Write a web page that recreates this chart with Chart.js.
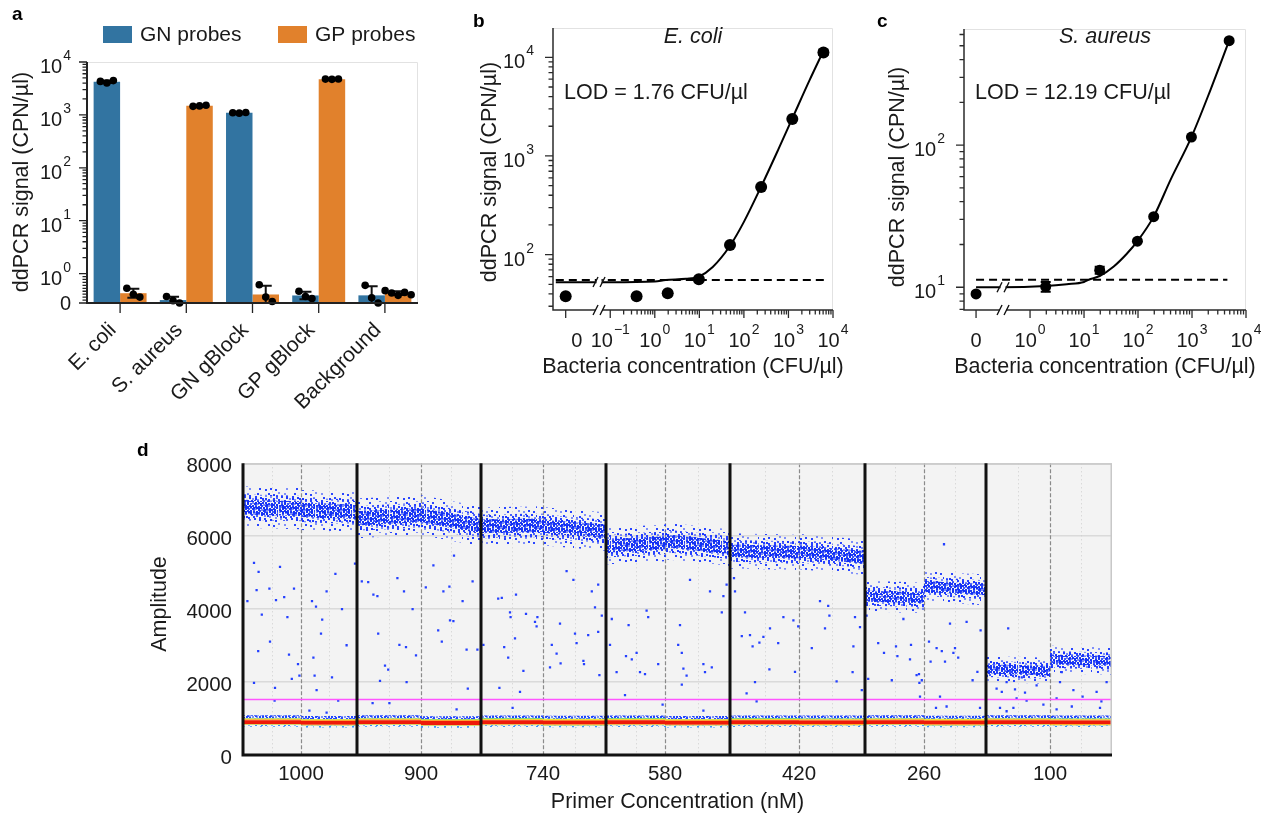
<!DOCTYPE html>
<html>
<head>
<meta charset="utf-8">
<title>ddPCR probe specificity, detection limits and primer titration</title>
<script src="https://cdn.jsdelivr.net/npm/chart.js@4.4.1/dist/chart.umd.min.js"></script>
<style>
  body { margin: 0; background: #fff; }
  #figure { position: relative; width: 1261px; height: 816px; overflow: hidden; }
  #figure canvas { position: absolute; }
</style>
</head>
<body>
<div id="figure">
  <canvas id="chartA" width="450" height="440" style="left:0;top:0"></canvas>
  <canvas id="chartB" width="410" height="400" style="left:450px;top:0"></canvas>
  <canvas id="chartC" width="401" height="400" style="left:860px;top:0"></canvas>
  <canvas id="chartD" width="1000" height="376" style="left:130px;top:440px"></canvas>
</div>
<script>
// ---------------------------Panel a: probe specificity------------------------------------
const aCategories = ['E. coli', 'S. aureus', 'GN gBlock', 'GP gBlock', 'Background'];
const aSeries = ['GN probes', 'GP probes'];
const aGnReplicates = [
  [4300, 4000, 4450],
  [0.22, 0.08, 0.0],
  [1100, 1080, 1110],
  [0.4, 0.22, 0.15],
  [0.6, 0.18, 0.0],
];
const aGpReplicates = [
  [0.5, 0.3, 0.2],
  [1450, 1480, 1520],
  [0.62, 0.2, 0.05],
  [4750, 4700, 4780],
  [0.42, 0.34, 0.26, 0.36, 0.28],
];
const aTickPowers = [0, 1, 2, 3, 4];

// ---------------------------Panel b: E. coli dilution series------------------------------
const bConc = [0, 0.39, 1.95, 9.76, 48.8, 244, 1220, 6100];
const bSignal = [38, 38, 40.6, 56.3, 125, 485, 2370, 11200];
const bSd = [0, 0, 0, 0, 0, 0, 0, 650];
const bFitConc = [0.006, 0.1, 1, 1.76, 5, 9.76, 20, 48.8, 100, 244, 600, 1220, 3000, 6100];
const bFitSignal = [52.5, 52.5, 53.5, 55.4, 57, 60, 75, 123, 215, 490, 1180, 2400, 5900, 11600];
const bLodConc = 1.76;
const bLodSignal = 55.4;
const bLodSpan = [0.006, 6500];

// ---------------------------Panel c: S. aureus dilution series----------------------------
const cConc = [0, 1.95, 19.5, 97.5, 195, 975, 4875];
const cSignal = [8.97, 10.1, 13.2, 21.1, 31.4, 114, 543];
const cSd = [0, 0.8, 0.75, 0, 0, 0, 0];
const cFitConc = [0.1, 0.3, 1.95, 4.8, 10, 12.19, 19.5, 35.5, 62, 97.5, 195, 400, 975, 2200, 4875];
const cFitSignal = [10.0, 10.0, 10.2, 10.5, 10.9, 11.3, 12.0, 14.0, 17.2, 21.1, 31.4, 57, 114, 245, 543];
const cLodConc = 12.19;
const cLodSignal = 11.3;
const cLodSpan = [0.1, 4520];

// ---------------------------Panel d: primer titration droplets----------------------------
const dPrimerConc = ['1000', '900', '740', '580', '420', '260', '100'];
// two wells per primer concentration
const dWellDroplets = [14500, 14000, 16000, 15000, 15500, 15750, 14750, 16250, 17250, 16500, 14750, 15500, 16000, 15500];
const dPosStart = [6800, 6720, 6490, 6580, 6270, 6270, 5730, 5870, 5600, 5580, 4360, 4620, 2360, 2620];
const dPosEnd = [6760, 6670, 6580, 6270, 6300, 6130, 5820, 5690, 5560, 5420, 4310, 4530, 2310, 2580];
const dPosSpread = [270, 260, 260, 260, 250, 250, 240, 240, 230, 230, 200, 200, 170, 180];
const dNegLevel = [905, 885, 905, 880, 900, 890, 900, 885, 900, 895, 905, 890, 905, 895];
const dThreshold = 1520;
// droplets between the clusters: [event number (thousands), amplitude]
const dRain = [
  [1.1, 4220], [3.4, 4520], [2.75, 5270], [3.9, 5020], [6.6, 4560], [4.7, 3850], [3.8, 2850], [6.75, 3110],
  [2.75, 1980], [8.0, 1840], [7.9, 1490], [8.25, 4250], [10.3, 4330], [11.1, 3780], [11.5, 2750], [12.2, 2090],
  [12.75, 4560], [13.75, 2490], [9.25, 5160], [14.1, 2180], [16.6, 1220], [17.25, 4220], [17.6, 2670], [18.25, 4070],
  [18.4, 1780], [17.9, 2180], [19.5, 3330], [19.8, 3710], [20.9, 4490], [22.25, 2130], [24.75, 4000], [25.9, 3010],
  [23.1, 4970], [28.0, 5250], [23.8, 1490], [20.9, 1160],
  [29.7, 4760], [31.3, 4740], [32.6, 4400], [33.6, 4360], [33.8, 3330], [35.5, 2450], [36.3, 2340], [34.25, 2030],
  [32.4, 1420], [36.6, 1420], [38.6, 4850], [40.25, 4490], [39.1, 3020], [40.75, 2960], [42.4, 4000], [43.25, 2730],
  [40.9, 2000], [45.7, 4600], [48.8, 3420], [49.7, 3110], [50.1, 4490], [51.6, 4620], [51.75, 3690], [52.6, 3670],
  [54.9, 4220], [55.9, 2890], [56.2, 1820], [57.4, 4760], [58.6, 2890], [53.4, 1250], [47.6, 5200], [52.75, 5470],
  [60.1, 3020], [63.8, 4290], [64.7, 4310], [65.3, 2960], [66.3, 2670], [66.75, 3910], [66.9, 3780], [68.0, 3200],
  [68.25, 4400], [70.1, 2310], [69.25, 1730], [64.1, 1840], [67.4, 1290], [70.75, 3870], [73.6, 3780], [73.0, 3650],
  [73.4, 3530], [77.2, 3020], [78.4, 2780], [76.75, 2400], [79.4, 2510], [79.25, 3600], [80.9, 5040], [82.6, 4800],
  [83.0, 3330], [83.4, 3070], [85.1, 2580], [85.25, 2490], [86.3, 3290], [87.2, 4490], [88.0, 4050], [88.8, 3380],
  [89.1, 2190], [89.7, 3820], [88.8, 4670],
  [91.75, 3020], [92.2, 3730], [93.4, 2270], [95.75, 2710], [96.4, 3560], [97.2, 2620], [95.5, 1640], [98.4, 2800],
  [99.25, 2270], [100.5, 2220], [100.9, 3960], [101.3, 3780], [103.8, 2490], [104.9, 1380], [108.8, 3020], [109.7, 2800],
  [109.25, 3560], [110.1, 2370], [109.7, 1930], [110.9, 2180], [111.75, 4800], [115.1, 2490], [115.5, 2270], [117.2, 2400],
  [115.1, 1220], [116.75, 4490], [119.7, 3910], [120.1, 4360], [120.9, 4670],
  [122.75, 4850], [123.0, 4490], [124.7, 3260], [125.5, 3910], [126.75, 3290], [127.4, 2980], [125.9, 1690], [128.0, 2000],
  [129.1, 3080], [130.1, 3240], [131.6, 2350], [131.75, 3470], [133.8, 3070], [135.1, 3780], [137.6, 3690], [138.0, 2280],
  [138.8, 3530], [142.2, 2930], [144.25, 4220], [145.5, 3470], [146.3, 4090], [146.6, 3820], [148.4, 2020], [152.4, 2270],
  [152.6, 2980], [154.25, 3510], [154.7, 1780], [153.0, 3780], [128.4, 1470],
  [155.9, 3820], [156.3, 2090], [158.8, 3070], [160.25, 2800], [162.2, 2050], [163.25, 2980], [163.6, 2710], [166.75, 2620],
  [168.4, 2190], [169.25, 1600], [169.1, 1980], [165.1, 3730], [167.0, 3020], [169.0, 2220], [169.7, 2050], [171.5, 3110],
  [171.9, 2560], [173.4, 2930], [174.7, 2850], [175.5, 2560], [177.6, 2800], [178.0, 2930], [178.8, 2670], [174.25, 1600],
  [173.25, 1290], [175.9, 1330], [182.4, 2050], [183.6, 2280], [184.4, 3420], [184.25, 1290], [175.25, 5780], [180.9, 3650],
  [176.75, 3600],
  [191.3, 3470], [188.4, 1820], [189.7, 1730], [190.9, 2000], [193.0, 1800], [195.5, 1710], [193.4, 1550], [195.9, 1490],
  [189.25, 1290], [190.9, 1200], [192.6, 1290], [198.4, 1910], [200.1, 1380], [203.4, 1550], [204.25, 2000], [204.7, 2270],
  [207.6, 1780], [209.9, 1600], [213.4, 1730], [214.6, 1470], [215.9, 2000], [207.2, 1330], [203.4, 1250], [214.25, 1290],
  [192.2, 2270], [194.7, 2130],
];

// ----------------------------------------------------------------------------------------------

const FONT = '"Liberation Sans", Arial, Helvetica, sans-serif';
const INK = '#1a1a1a';

Chart.defaults.font.family = FONT;
Chart.defaults.color = INK;
Chart.defaults.animation = false;
Chart.defaults.events = [];
Chart.defaults.responsive = false;
Chart.defaults.plugins.legend.display = false;
Chart.defaults.plugins.tooltip.enabled = false;

const mean = (a) => a.reduce((s, v) => s + v, 0) / a.length;
const stdev = (a) => {
  const m = mean(a);
  return Math.sqrt(a.reduce((s, v) => s + (v - m) ** 2, 0) / (a.length - 1));
};

// "10" with a raised exponent, as on the log axes
function powerLabel(ctx, exp, x, baseline, align) {
  const expText = String(exp).replace('-', '\u2212');
  ctx.font = `20px ${FONT}`;
  const wBase = ctx.measureText('10').width;
  ctx.font = `14px ${FONT}`;
  const wExp = ctx.measureText(expText).width;
  const total = wBase + 1 + wExp;
  const x0 = align === 'right' ? x - total : x - total / 2;
  ctx.textAlign = 'left';
  ctx.textBaseline = 'alphabetic';
  ctx.font = `20px ${FONT}`;
  ctx.fillText('10', x0, baseline);
  ctx.font = `14px ${FONT}`;
  ctx.fillText(expText, x0 + wBase + 1, baseline - 13);
}

function plainLabel(ctx, text, x, baseline, align) {
  ctx.font = `20px ${FONT}`;
  ctx.textAlign = align;
  ctx.textBaseline = 'alphabetic';
  ctx.fillText(text, x, baseline);
}

function panelLetter(ctx, letter, x, baseline) {
  ctx.font = `bold 19px ${FONT}`;
  ctx.fillStyle = '#000';
  ctx.textAlign = 'left';
  ctx.textBaseline = 'alphabetic';
  ctx.fillText(letter, x, baseline);
}

function verticalTitle(ctx, text, x, y) {
  ctx.save();
  ctx.translate(x, y);
  ctx.rotate(-Math.PI / 2);
  ctx.font = `21.5px ${FONT}`;
  ctx.textAlign = 'center';
  ctx.textBaseline = 'middle';
  ctx.fillText(text, 0, 0);
  ctx.restore();
}

function logMinors(fromExp, toExp, lo, hi) {
  const out = [];
  for (let e = fromExp; e <= toExp; e++) {
    for (let m = 2; m <= 9; m++) {
      const v = m * 10 ** e;
      if (v > lo && v < hi) out.push(v);
    }
  }
  return out;
}

// ---------------------------Panel a chart------------------------------------------------
const LIN = 0.556; // the 0..1 stretch of the axis, in decades
const symlog = (v) => (v < 1 ? v * LIN : LIN + Math.log10(v));

const panelAPlugin = {
  id: 'panelA',
  afterDatasetsDraw(chart) {
    const { ctx } = chart;
    const yS = chart.scales.y;
    ctx.save();
    chart.data.datasets.forEach((ds, i) => {
      const meta = chart.getDatasetMeta(i);
      ds.replicates.forEach((reps, j) => {
        const cx = meta.data[j].x;
        const m = mean(reps);
        const s = stdev(reps);
        const hi = yS.getPixelForValue(symlog(m + s));
        const lo = yS.getPixelForValue(symlog(Math.max(0, m - s)));
        ctx.strokeStyle = '#111';
        ctx.lineWidth = 2;
        ctx.beginPath();
        ctx.moveTo(cx, hi); ctx.lineTo(cx, lo);
        ctx.moveTo(cx - 6, hi); ctx.lineTo(cx + 6, hi);
        ctx.moveTo(cx - 6, lo); ctx.lineTo(cx + 6, lo);
        ctx.stroke();
        ctx.fillStyle = '#000';
        reps.forEach((v, k) => {
          const dx = (k - (reps.length - 1) / 2) * 6.5;
          ctx.beginPath();
          ctx.arc(cx + dx, yS.getPixelForValue(symlog(v)), 3.8, 0, Math.PI * 2);
          ctx.fill();
        });
      });
    });
    ctx.restore();
  },
  afterDraw(chart) {
    const { ctx, chartArea: ca } = chart;
    const xS = chart.scales.x;
    const yS = chart.scales.y;
    ctx.save();

    ctx.strokeStyle = '#e2e2e2';
    ctx.lineWidth = 1;
    ctx.beginPath();
    ctx.moveTo(ca.left, ca.top + 0.5);
    ctx.lineTo(ca.right - 0.5, ca.top + 0.5);
    ctx.lineTo(ca.right - 0.5, ca.bottom);
    ctx.stroke();

    ctx.strokeStyle = '#222';
    ctx.lineWidth = 2;
    ctx.beginPath();
    ctx.moveTo(ca.left, ca.top);
    ctx.lineTo(ca.left, ca.bottom);
    ctx.lineTo(ca.right, ca.bottom);
    ctx.stroke();

    // y ticks: linear part 0..1, then decades
    const majors = [0, ...aTickPowers.map((p) => 10 ** p)];
    const minors = [0.1, 0.2, 0.3, 0.4, 0.5, 0.6, 0.7, 0.8, 0.9, ...logMinors(0, 3, 1, 1e4)];
    ctx.lineWidth = 1.3;
    ctx.beginPath();
    majors.forEach((v) => {
      const y = yS.getPixelForValue(symlog(v));
      ctx.moveTo(ca.left - 8, y); ctx.lineTo(ca.left, y);
    });
    minors.forEach((v) => {
      const y = yS.getPixelForValue(symlog(v));
      ctx.moveTo(ca.left - 4.5, y); ctx.lineTo(ca.left, y);
    });
    aCategories.forEach((_, i) => {
      const x = xS.getPixelForValue(i);
      ctx.moveTo(x, ca.bottom); ctx.lineTo(x, ca.bottom + 10);
    });
    ctx.stroke();

    ctx.fillStyle = INK;
    plainLabel(ctx, '0', ca.left - 16, yS.getPixelForValue(0) + 7, 'right');
    aTickPowers.forEach((p) => {
      powerLabel(ctx, p, ca.left - 16, yS.getPixelForValue(symlog(10 ** p)) + 11, 'right');
    });

    ctx.font = `21px ${FONT}`;
    ctx.textAlign = 'right';
    ctx.textBaseline = 'alphabetic';
    aCategories.forEach((name, i) => {
      ctx.save();
      ctx.translate(xS.getPixelForValue(i) - 3, ca.bottom + 28);
      ctx.rotate(-Math.PI / 4);
      ctx.fillText(name, 0, 0);
      ctx.restore();
    });

    verticalTitle(ctx, 'ddPCR signal (CPN/\u00b5l)', 22, 182);

    // legend
    const legendX = [103, 278];
    chart.data.datasets.forEach((ds, i) => {
      ctx.fillStyle = ds.backgroundColor;
      ctx.fillRect(legendX[i], 26, 29, 17);
      ctx.fillStyle = INK;
      ctx.font = `21px ${FONT}`;
      ctx.textAlign = 'left';
      ctx.textBaseline = 'middle';
      ctx.fillText(ds.label, legendX[i] + 37, 35);
    });

    panelLetter(ctx, 'a', 12, 20);
    ctx.restore();
  },
};

new Chart(document.getElementById('chartA'), {
  type: 'bar',
  data: {
    labels: aCategories,
    datasets: [
      {
        label: aSeries[0],
        data: aGnReplicates.map((r) => symlog(mean(r))),
        replicates: aGnReplicates,
        backgroundColor: '#3274a1',
        categoryPercentage: 0.8,
        barPercentage: 1,
      },
      {
        label: aSeries[1],
        data: aGpReplicates.map((r) => symlog(mean(r))),
        replicates: aGpReplicates,
        backgroundColor: '#e1812c',
        categoryPercentage: 0.8,
        barPercentage: 1,
      },
    ],
  },
  options: {
    layout: { padding: { left: 87, right: 32, top: 62, bottom: 137 }, autoPadding: false },
    scales: {
      x: { ticks: { display: false }, grid: { display: false, drawTicks: false }, border: { display: false } },
      y: {
        min: 0,
        max: symlog(1e4),
        ticks: { display: false },
        grid: { display: false, drawTicks: false },
        border: { display: false },
      },
    },
  },
  plugins: [panelAPlugin],
});

// ---------------------------Panels b and c: fitted dilution curves------------------------
function breakMark(ctx, x, y) {
  ctx.save();
  ctx.strokeStyle = '#111';
  ctx.lineWidth = 1.4;
  ctx.beginPath();
  ctx.moveTo(x - 6, y + 5); ctx.lineTo(x - 1, y - 5);
  ctx.moveTo(x + 1, y + 5); ctx.lineTo(x + 6, y - 5);
  ctx.stroke();
  ctx.restore();
}

function fitPanel(p) {
  const plotX = (c) => (c === 0 ? p.zeroAt : c);

  const plugin = {
    id: 'fitPanel',
    afterDatasetsDraw(chart) {
      const { ctx } = chart;
      const xS = chart.scales.x;
      const yS = chart.scales.y;
      ctx.save();
      ctx.strokeStyle = '#000';
      ctx.lineWidth = 2;
      p.conc.forEach((c, i) => {
        const s = p.sd[i];
        if (!s) return;
        const x = xS.getPixelForValue(plotX(c));
        const hi = yS.getPixelForValue(p.signal[i] + s);
        const lo = yS.getPixelForValue(p.signal[i] - s);
        ctx.beginPath();
        ctx.moveTo(x, hi); ctx.lineTo(x, lo);
        ctx.moveTo(x - 5, hi); ctx.lineTo(x + 5, hi);
        ctx.moveTo(x - 5, lo); ctx.lineTo(x + 5, lo);
        ctx.stroke();
      });
      // break across the baseline of the fit
      const bx = xS.getPixelForValue(p.breakAt);
      const by = yS.getPixelForValue(p.breakLevel);
      ctx.fillStyle = '#fff';
      ctx.fillRect(bx - 2.5, by - 6, 5, 12);
      breakMark(ctx, bx, by);
      ctx.restore();
    },
    afterDraw(chart) {
      const { ctx, chartArea: ca } = chart;
      const xS = chart.scales.x;
      const yS = chart.scales.y;
      const bx = xS.getPixelForValue(p.breakAt);
      ctx.save();

      ctx.strokeStyle = '#e2e2e2';
      ctx.lineWidth = 1;
      ctx.beginPath();
      ctx.moveTo(ca.left, ca.top + 0.5);
      ctx.lineTo(ca.right - 0.5, ca.top + 0.5);
      ctx.lineTo(ca.right - 0.5, ca.bottom);
      ctx.stroke();

      ctx.strokeStyle = '#2b2b2b';
      ctx.lineWidth = 1.5;
      ctx.beginPath();
      ctx.moveTo(ca.left, ca.top); ctx.lineTo(ca.left, ca.bottom);
      ctx.lineTo(bx - 3, ca.bottom);
      ctx.moveTo(bx + 3, ca.bottom); ctx.lineTo(ca.right, ca.bottom);
      ctx.stroke();
      breakMark(ctx, bx, ca.bottom);

      const yMinors = logMinors(Math.floor(Math.log10(p.yMin)), Math.floor(Math.log10(p.yMax)), p.yMin, p.yMax);
      const xMinors = logMinors(p.xPowers[0], 3, 0, 1e4);
      ctx.lineWidth = 1.3;
      ctx.beginPath();
      p.yPowers.forEach((e) => {
        const y = yS.getPixelForValue(10 ** e);
        ctx.moveTo(ca.left - 8, y); ctx.lineTo(ca.left, y);
      });
      yMinors.forEach((v) => {
        const y = yS.getPixelForValue(v);
        ctx.moveTo(ca.left - 4.5, y); ctx.lineTo(ca.left, y);
      });
      [p.zeroAt, ...p.xPowers.map((e) => 10 ** e)].forEach((v) => {
        const x = xS.getPixelForValue(v);
        ctx.moveTo(x, ca.bottom); ctx.lineTo(x, ca.bottom + 8);
      });
      xMinors.forEach((v) => {
        const x = xS.getPixelForValue(v);
        ctx.moveTo(x, ca.bottom); ctx.lineTo(x, ca.bottom + 4.5);
      });
      ctx.stroke();

      ctx.fillStyle = INK;
      p.yPowers.forEach((e) => powerLabel(ctx, e, ca.left - 19, yS.getPixelForValue(10 ** e) + 11, 'right'));
      const lblY = ca.bottom + 36.7;
      plainLabel(ctx, '0', xS.getPixelForValue(p.zeroAt) + p.zeroLabelShift, lblY, 'center');
      p.xPowers.forEach((e) => powerLabel(ctx, e, xS.getPixelForValue(10 ** e), lblY, 'center'));

      const midX = (ca.left + ca.right) / 2;
      ctx.font = `italic 21.5px ${FONT}`;
      ctx.textAlign = 'center';
      ctx.textBaseline = 'middle';
      ctx.fillText(p.organism, midX, 37);

      ctx.font = `21.5px ${FONT}`;
      ctx.textAlign = 'left';
      ctx.fillText(`LOD = ${p.lodConc} CFU/\u00b5l`, ca.left + 11, 93);

      ctx.textAlign = 'center';
      ctx.fillText('Bacteria concentration (CFU/\u00b5l)', midX, 367);
      verticalTitle(ctx, 'ddPCR signal (CPN/\u00b5l)', p.yTitleX, p.yTitleY);

      panelLetter(ctx, p.letter, p.letterX, 27);
      ctx.restore();
    },
  };

  new Chart(document.getElementById(p.canvas), {
    type: 'line',
    data: {
      datasets: [
        {
          data: p.conc.map((c, i) => ({ x: plotX(c), y: p.signal[i] })),
          showLine: false,
          pointRadius: p.pointRadius,
          pointBackgroundColor: '#000',
          pointBorderWidth: 0,
        },
        {
          data: p.fitConc.map((c, i) => ({ x: c, y: p.fitSignal[i] })),
          borderColor: '#000',
          borderWidth: 2,
          pointRadius: 0,
          cubicInterpolationMode: 'monotone',
        },
        {
          data: p.lodSpan.map((c) => ({ x: c, y: p.lodSignal })),
          borderColor: '#000',
          borderWidth: 2,
          borderDash: [8, 5],
          pointRadius: 0,
        },
      ],
    },
    options: {
      layout: { padding: p.pad, autoPadding: false },
      scales: {
        x: {
          type: 'logarithmic',
          min: p.xMin,
          max: 1e4,
          ticks: { display: false },
          grid: { display: false, drawTicks: false },
          border: { display: false },
        },
        y: {
          type: 'logarithmic',
          min: p.yMin,
          max: p.yMax,
          ticks: { display: false },
          grid: { display: false, drawTicks: false },
          border: { display: false },
        },
      },
    },
    plugins: [plugin],
  });
}

fitPanel({
  canvas: 'chartB', letter: 'b', letterX: 23, organism: 'E. coli',
  conc: bConc, signal: bSignal, sd: bSd, fitConc: bFitConc, fitSignal: bFitSignal,
  lodConc: bLodConc, lodSignal: bLodSignal, lodSpan: bLodSpan,
  zeroAt: 0.01, zeroLabelShift: 11, breakAt: 0.056, breakLevel: 52.8,
  xMin: 0.00519, yMin: 27.5, yMax: 19800,
  xPowers: [-1, 0, 1, 2, 3, 4], yPowers: [2, 3, 4],
  pad: { left: 103, right: 27, top: 28, bottom: 90 },
  pointRadius: 6, yTitleX: 40, yTitleY: 172,
});

fitPanel({
  canvas: 'chartC', letter: 'c', letterX: 17, organism: 'S. aureus',
  conc: cConc, signal: cSignal, sd: cSd, fitConc: cFitConc, fitSignal: cFitSignal,
  lodConc: cLodConc, lodSignal: cLodSignal, lodSpan: cLodSpan,
  zeroAt: 0.1, zeroLabelShift: 0, breakAt: 0.316, breakLevel: 10.0,
  xMin: 0.0598, yMin: 6.92, yMax: 656,
  xPowers: [0, 1, 2, 3, 4], yPowers: [1, 2],
  pad: { left: 104, right: 15, top: 29, bottom: 90 },
  pointRadius: 5.5, yTitleX: 38, yTitleY: 177,
});

// ---------------------------Panel d chart------------------------------------------------
const dEdges = dWellDroplets.reduce((acc, n) => { acc.push(acc[acc.length - 1] + n); return acc; }, [0]);
const dTotal = dEdges[dEdges.length - 1];
const dGroupMids = dEdges.filter((_, i) => i % 2 === 1);
const dGroupBounds = dEdges.filter((_, i) => i % 2 === 0 && i > 0 && i < dEdges.length - 1);

// speckle texture for the dense droplet clouds
function stipple(w, h, dots, color) {
  const c = document.createElement('canvas');
  c.width = w;
  c.height = h;
  const g = c.getContext('2d');
  g.fillStyle = color;
  for (let i = 1; i <= dots; i++) {
    const px = Math.floor(((0.37 + i * 0.7548777) % 1) * w);
    const py = Math.floor(((0.61 + i * 0.5698403) % 1) * h);
    g.globalAlpha = i % 3 === 0 ? 0.55 : 0.95;
    g.fillRect(px, py, 2, 2);
  }
  return g.createPattern(c, 'repeat');
}

const haloTex = stipple(37, 31, 36, '#1f3cff');
const midTex = stipple(37, 31, 110, '#1a36ff');
const coreTex = stipple(37, 31, 270, '#1230f5');
const negTopTex = stipple(23, 17, 80, '#1a40ff');
const negLowTex = stipple(23, 17, 26, '#2a8cff');

// colour bands of the negative cluster, relative to its centre amplitude
const negLayers = [
  [-130, -85, negLowTex],
  [-85, -70, '#b8d86a'],
  [-70, -55, '#ffb000'],
  [-55, 50, '#ee1a08'],
  [50, 70, '#ff8a00'],
  [70, 88, '#ffe000'],
  [88, 105, '#5fd35f'],
  [105, 185, negTopTex],
];

const dDatasets = [];
function band(x0, x1, lo0, hi0, lo1, hi1, fill, order) {
  const common = { borderColor: 'rgba(0,0,0,0)', borderWidth: 0, pointRadius: 0, order };
  dDatasets.push({ ...common, data: [{ x: x0, y: hi0 }, { x: x1, y: hi1 }], fill: '+1', backgroundColor: fill });
  dDatasets.push({ ...common, data: [{ x: x0, y: lo0 }, { x: x1, y: lo1 }], fill: false });
}

dWellDroplets.forEach((_, w) => {
  const x0 = dEdges[w];
  const x1 = dEdges[w + 1];
  [[2.1, haloTex, 60], [1.3, midTex, 55], [0.75, coreTex, 50]].forEach(([k, tex, order]) => {
    const h = dPosSpread[w] * k;
    band(x0, x1, dPosStart[w] - h, dPosStart[w] + h, dPosEnd[w] - h, dPosEnd[w] + h, tex, order);
  });
  const c = dNegLevel[w];
  negLayers.forEach(([lo, hi, fill]) => band(x0, x1, c + lo, c + hi, c + lo, c + hi, fill, 40));
});

dDatasets.push({
  data: dRain.map(([k, a]) => ({ x: k * 1000, y: a })),
  showLine: false,
  pointRadius: 1.6,
  pointStyle: 'rect',
  pointBackgroundColor: '#2440ff',
  pointBorderWidth: 0,
  order: 20,
});
dDatasets.push({
  data: [{ x: 0, y: dThreshold }, { x: dTotal, y: dThreshold }],
  borderColor: '#ff55ff',
  borderWidth: 1.5,
  pointRadius: 0,
  order: 5,
});

const panelDPlugin = {
  id: 'panelD',
  beforeDraw(chart) {
    const { ctx, chartArea: ca } = chart;
    ctx.save();
    ctx.fillStyle = '#f3f3f3';
    ctx.fillRect(ca.left, ca.top, ca.right - ca.left, ca.bottom - ca.top);
    ctx.restore();
  },
  beforeDatasetsDraw(chart) {
    const { ctx, chartArea: ca } = chart;
    const xS = chart.scales.x;
    ctx.save();
    ctx.strokeStyle = '#cdcdcd';
    ctx.lineWidth = 1;
    ctx.setLineDash([1, 3]);
    ctx.beginPath();
    dWellDroplets.forEach((_, w) => {
      const x = Math.round(xS.getPixelForValue((dEdges[w] + dEdges[w + 1]) / 2)) + 0.5;
      ctx.moveTo(x, ca.top); ctx.lineTo(x, ca.bottom);
    });
    ctx.stroke();
    ctx.strokeStyle = '#8a8a8a';
    ctx.lineWidth = 1.2;
    ctx.setLineDash([4, 2]);
    ctx.beginPath();
    dGroupMids.forEach((v) => {
      const x = Math.round(xS.getPixelForValue(v)) + 0.5;
      ctx.moveTo(x, ca.top); ctx.lineTo(x, ca.bottom);
    });
    ctx.stroke();
    ctx.restore();
  },
  afterDatasetsDraw(chart) {
    const { ctx, chartArea: ca } = chart;
    const xS = chart.scales.x;
    ctx.save();
    ctx.strokeStyle = '#c8c8c8';
    ctx.lineWidth = 1.5;
    ctx.beginPath();
    ctx.moveTo(ca.left, ca.top + 0.75); ctx.lineTo(ca.right - 0.75, ca.top + 0.75); ctx.lineTo(ca.right - 0.75, ca.bottom);
    ctx.stroke();

    ctx.strokeStyle = '#111';
    ctx.lineWidth = 3;
    ctx.beginPath();
    dGroupBounds.forEach((v) => {
      const x = xS.getPixelForValue(v);
      ctx.moveTo(x, ca.top); ctx.lineTo(x, ca.bottom);
    });
    ctx.moveTo(ca.left, ca.top); ctx.lineTo(ca.left, ca.bottom); ctx.lineTo(ca.right, ca.bottom);
    ctx.stroke();

    ctx.fillStyle = INK;
    verticalTitle(ctx, 'Amplitude', 30, 164);
    ctx.font = `21.5px ${FONT}`;
    ctx.textAlign = 'center';
    ctx.textBaseline = 'middle';
    ctx.fillText('Primer Concentration (nM)', (ca.left + ca.right) / 2, 362);
    panelLetter(ctx, 'd', 7, 16);
    ctx.restore();
  },
};

new Chart(document.getElementById('chartD'), {
  type: 'line',
  data: { datasets: dDatasets },
  options: {
    layout: { padding: { left: 0, right: 18, top: 15, bottom: 0 }, autoPadding: false },
    scales: {
      x: {
        type: 'linear',
        min: 0,
        max: dTotal,
        afterBuildTicks: (s) => { s.ticks = dGroupMids.map((v) => ({ value: v })); },
        afterFit: (s) => { s.height = 61; },
        ticks: {
          callback: (v, i) => dPrimerConc[i],
          font: { size: 20.5 },
          color: INK,
          padding: 7,
          maxRotation: 0,
          autoSkip: false,
        },
        grid: { display: false, drawTicks: false },
        border: { display: false },
      },
      y: {
        min: 0,
        max: 8000,
        afterFit: (s) => { s.width = 113; },
        ticks: {
          stepSize: 2000,
          callback: (v) => String(v),
          font: { size: 20.5 },
          color: INK,
          padding: 11,
          labelOffset: 3,
        },
        grid: { color: '#dadada', lineWidth: 1.5, drawTicks: false },
        border: { display: false },
      },
    },
  },
  plugins: [panelDPlugin],
});
</script>
</body>
</html>
